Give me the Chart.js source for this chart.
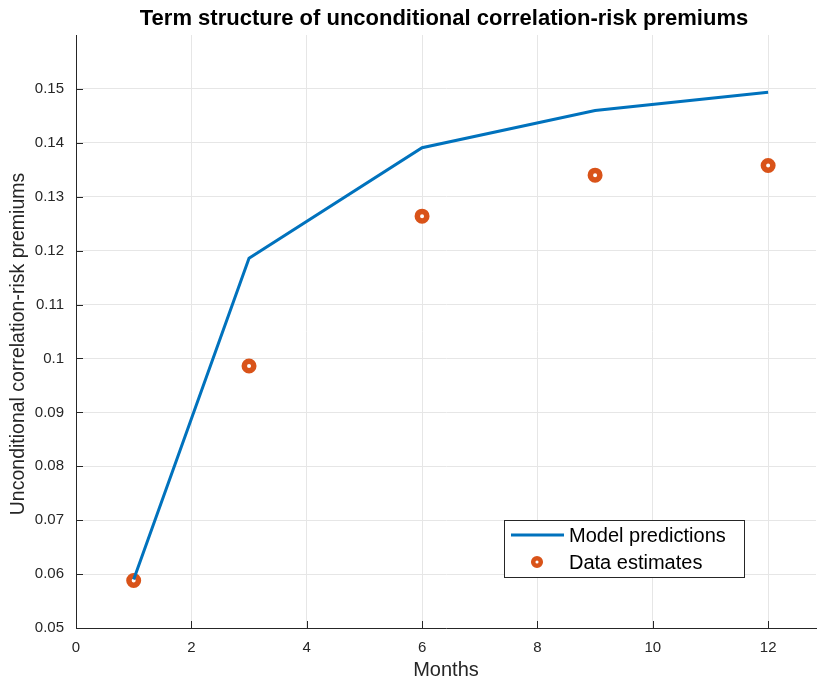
<!DOCTYPE html>
<html>
<head>
<meta charset="utf-8">
<script src="https://cdn.jsdelivr.net/npm/chart.js@4/dist/chart.umd.min.js"></script>
<style>
  html, body { margin: 0; padding: 0; background: #fff; }
  #wrap { width: 817px; height: 680px; }
</style>
</head>
<body>
<div id="wrap"><canvas id="crp"></canvas></div>
<script>
// maturities in months
const months = [1, 3, 6, 9, 12];
const modelPredictions = [0.0590, 0.1186, 0.1391, 0.1460, 0.1494];
const dataEstimates = [0.0588, 0.0986, 0.1264, 0.1340, 0.1358];
const xTicks = [0, 2, 4, 6, 8, 10, 12];
const yTicks = [0.05, 0.06, 0.07, 0.08, 0.09, 0.10, 0.11, 0.12, 0.13, 0.14, 0.15];

const axisGray = '#262626';
const blue = '#0072BD';
const orange = '#D95319';
const font = 'Liberation Sans, Arial, sans-serif';

// MATLAB-ish extras: inward ticks, title, y label, legend box
const matlabLook = {
    id: 'matlabLook',
    afterDraw(chart) {
        const ctx = chart.ctx;
        const x = chart.scales.x, y = chart.scales.y;
        const a = chart.chartArea;
        ctx.save();
        ctx.strokeStyle = axisGray;
        ctx.lineWidth = 1;
        ctx.beginPath();
        xTicks.forEach(function (t) {
            const px = Math.round(x.getPixelForValue(t)) + 0.5;
            ctx.moveTo(px, a.bottom);
            ctx.lineTo(px, a.bottom - 7);
        });
        yTicks.forEach(function (t) {
            const py = Math.round(y.getPixelForValue(t)) + 0.5;
            ctx.moveTo(a.left, py);
            ctx.lineTo(a.left + 7, py);
        });
        ctx.stroke();

        ctx.fillStyle = '#000';
        ctx.font = 'bold 22px ' + font;
        ctx.textAlign = 'center';
        ctx.textBaseline = 'middle';
        ctx.fillText('Term structure of unconditional correlation-risk premiums', 444, 19);

        // y axis label, MATLAB puts it a little below the middle
        ctx.save();
        ctx.translate(19, 344);
        ctx.rotate(-Math.PI / 2);
        ctx.fillStyle = axisGray;
        ctx.font = '19.5px ' + font;
        ctx.fillText('Unconditional correlation-risk premiums', 0, 0);
        ctx.restore();

        // legend
        const lx = 504, ly = 520, lw = 240, lh = 57;
        ctx.fillStyle = '#fff';
        ctx.fillRect(lx, ly, lw, lh);
        ctx.strokeStyle = axisGray;
        ctx.strokeRect(lx + 0.5, ly + 0.5, lw, lh);
        ctx.strokeStyle = blue;
        ctx.lineWidth = 3;
        ctx.beginPath();
        ctx.moveTo(511, 535);
        ctx.lineTo(564, 535);
        ctx.stroke();
        ctx.strokeStyle = orange;
        ctx.lineWidth = 4.5;
        ctx.beginPath();
        ctx.arc(537, 562, 3.8, 0, Math.PI * 2);
        ctx.stroke();
        ctx.fillStyle = '#000';
        ctx.font = '20px ' + font;
        ctx.textAlign = 'left';
        ctx.fillText('Model predictions', 569, 536);
        ctx.fillText('Data estimates', 569, 563);
        ctx.restore();
    }
};

new Chart(document.getElementById('crp').getContext('2d'), {
    type: 'scatter',
    data: {
        datasets: [{
            label: 'Model predictions',
            type: 'line',
            data: months.map((m, i) => ({ x: m, y: modelPredictions[i] })),
            borderColor: blue,
            borderWidth: 3,
            pointRadius: 0,
            fill: false,
            tension: 0
        }, {
            label: 'Data estimates',
            data: months.map((m, i) => ({ x: m, y: dataEstimates[i] })),
            borderColor: orange,
            backgroundColor: '#fff',
            borderWidth: 5.5,
            pointRadius: 4.75
        }]
    },
    options: {
        responsive: true,
        maintainAspectRatio: false,
        animation: false,
        layout: { autoPadding: false, padding: { top: 35, right: 1, left: 0, bottom: 0 } },
        plugins: {
            legend: { display: false },
            title: { display: false },
            tooltip: { enabled: false }
        },
        scales: {
            x: {
                type: 'linear',
                min: 0,
                max: 12.83,
                afterFit(s) { s.height = 52; },
                afterBuildTicks(s) { s.ticks = xTicks.map(v => ({ value: v })); },
                ticks: { color: axisGray, font: { family: font, size: 15 }, padding: 11 },
                grid: { color: '#e6e6e6', tickLength: 0, drawTicks: false },
                border: { color: axisGray, width: 1 },
                title: { display: true, text: 'Months', color: axisGray, font: { family: font, size: 20 }, padding: { top: 0, bottom: -2 } }
            },
            y: {
                min: 0.05,
                max: 0.16,
                afterFit(s) { s.width = 76; },
                afterBuildTicks(s) { s.ticks = yTicks.map(v => ({ value: v })); },
                ticks: {
                    color: axisGray,
                    font: { family: font, size: 15 },
                    padding: 12,
                    callback: v => String(parseFloat(v.toFixed(2)))
                },
                grid: { color: '#e6e6e6', drawTicks: false },
                border: { color: axisGray, width: 1 },
                title: { display: false }
            }
        }
    },
    plugins: [matlabLook]
});
</script>
</body>
</html>
